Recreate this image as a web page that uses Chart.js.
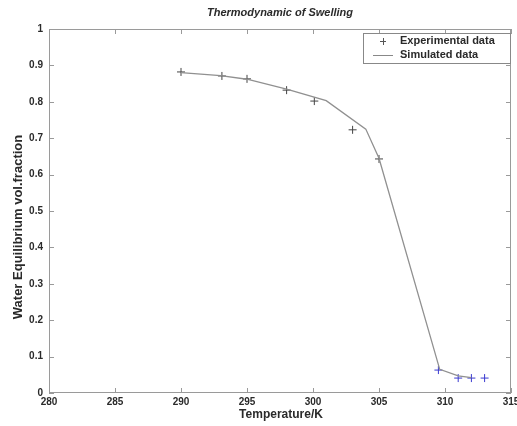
<!DOCTYPE html>
<html><head><meta charset="utf-8">
<script src="https://cdn.jsdelivr.net/npm/chart.js@4.4.1/dist/chart.umd.min.js"></script>
<style>html,body{margin:0;padding:0;background:#fff}#wrap{width:517px;height:426px}</style>
</head><body><div id="wrap"><canvas id="c" width="517" height="426"></canvas></div>
<script>
const chartTitle = "Thermodynamic of Swelling";
const xAxisTitle = "Temperature/K";
const yAxisTitle = "Water Equilibrium vol.fraction";
const expLabel = "Experimental data";
const simLabel = "Simulated data";
const expTemp = [290, 293.1, 295, 298, 300.1, 303, 305, 309.5, 311, 312, 313];
const expFrac = [0.882, 0.871, 0.863, 0.832, 0.802, 0.723, 0.643, 0.063, 0.041, 0.041, 0.041];
const expColors = ["#444","#444","#444","#444","#444","#444","#444","#3a3ad0","#3a3ad0","#3a3ad0","#3a3ad0"];
const simTemp = [290, 293, 295, 298, 301, 304, 305, 309.6, 311, 312];
const simFrac = [0.880, 0.872, 0.862, 0.835, 0.803, 0.725, 0.645, 0.065, 0.047, 0.042];
const xMin = 280, xMax = 315, xStep = 5;
const yMin = 0, yMax = 1, yStep = 0.1;

const FONT = "'Liberation Sans', Arial, sans-serif";

const framePlugin = {
  id: 'frame',
  afterDraw(chart) {
    const ctx = chart.ctx, a = chart.chartArea;
    const xs = chart.scales.x, ys = chart.scales.y;
    ctx.save();
    ctx.strokeStyle = '#9a9a9a';
    ctx.lineWidth = 1;
    ctx.strokeRect(a.left + 0.5, a.top + 0.5, a.right - a.left - 1, a.bottom - a.top - 1);
    const tl = 5;
    ctx.beginPath();
    xs.ticks.forEach(t => {
      const px = Math.round(xs.getPixelForValue(t.value)) + 0.5;
      ctx.moveTo(px, a.bottom); ctx.lineTo(px, a.bottom - tl);
      ctx.moveTo(px, a.top); ctx.lineTo(px, a.top + tl);
    });
    ys.ticks.forEach(t => {
      const py = Math.round(ys.getPixelForValue(t.value)) + 0.5;
      ctx.moveTo(a.left, py); ctx.lineTo(a.left + tl, py);
      ctx.moveTo(a.right, py); ctx.lineTo(a.right - tl, py);
    });
    ctx.stroke();
    // title
    ctx.fillStyle = '#2a2a2a';
    ctx.font = 'italic bold 11px ' + FONT;
    ctx.textAlign = 'center'; ctx.textBaseline = 'middle';
    ctx.fillText(chartTitle, (a.left + a.right) / 2, 13);
    // axis titles
    ctx.font = 'bold 12px ' + FONT;
    ctx.fillText(xAxisTitle, 281, 415);
    ctx.save();
    ctx.font = 'bold 13px ' + FONT;
    ctx.translate(18, 227);
    ctx.rotate(-Math.PI / 2);
    ctx.fillText(yAxisTitle, 0, 0);
    ctx.restore();
    // legend
    const lx = 363, ly = 33, lw = a.right - 1 - lx, lh = 30;
    ctx.fillStyle = '#fff';
    ctx.fillRect(lx, ly, lw, lh);
    ctx.strokeStyle = '#888';
    ctx.strokeRect(lx + 0.5, ly + 0.5, lw, lh);
    ctx.strokeStyle = '#555';
    ctx.beginPath();
    ctx.moveTo(380, 41.5); ctx.lineTo(386, 41.5);
    ctx.moveTo(383.5, 38); ctx.lineTo(383.5, 45);
    ctx.stroke();
    ctx.strokeStyle = '#888';
    ctx.beginPath();
    ctx.moveTo(373, 55.5); ctx.lineTo(393, 55.5);
    ctx.stroke();
    ctx.fillStyle = '#2a2a2a';
    ctx.font = 'bold 11px ' + FONT;
    ctx.textAlign = 'left';
    ctx.fillText(expLabel, 400, 41);
    ctx.fillText(simLabel, 400, 55);
    ctx.restore();
  }
};

new Chart(document.getElementById('c'), {
  type: 'scatter',
  data: {
    datasets: [
      {
        label: simLabel,
        data: simTemp.map((x, i) => ({x, y: simFrac[i]})),
        showLine: true,
        borderColor: '#909090',
        borderWidth: 1.3,
        pointRadius: 0,
        fill: false
      },
      {
        label: expLabel,
        data: expTemp.map((x, i) => ({x, y: expFrac[i]})),
        showLine: false,
        pointStyle: 'cross',
        pointRadius: 4,
        pointBorderWidth: 1,
        pointBorderColor: expColors,
        pointBackgroundColor: expColors
      }
    ]
  },
  options: {
    responsive: false,
    animation: false,
    layout: { padding: { top: 29, right: 6, left: 0, bottom: 0 } },
    plugins: { legend: { display: false }, title: { display: false }, tooltip: { enabled: false } },
    scales: {
      x: {
        type: 'linear', min: xMin, max: xMax,
        grid: { display: false, drawTicks: false },
        border: { display: false },
        ticks: { stepSize: xStep, color: '#2a2a2a', padding: 3, maxRotation: 0, font: { family: FONT, size: 10, weight: 'bold' } },
        afterFit(s) { s.height = 33; s.paddingRight = 0; s.paddingLeft = 0; }
      },
      y: {
        type: 'linear', min: yMin, max: yMax,
        grid: { display: false, drawTicks: false },
        border: { display: false },
        ticks: { stepSize: yStep, color: '#2a2a2a', padding: 6,
          callback: v => String(Math.round(v * 10) / 10),
          font: { family: FONT, size: 10, weight: 'bold' } },
        afterFit(s) { s.width = 49; s.paddingTop = 0; s.paddingBottom = 0; }
      }
    }
  },
  plugins: [framePlugin]
});
</script></body></html>
